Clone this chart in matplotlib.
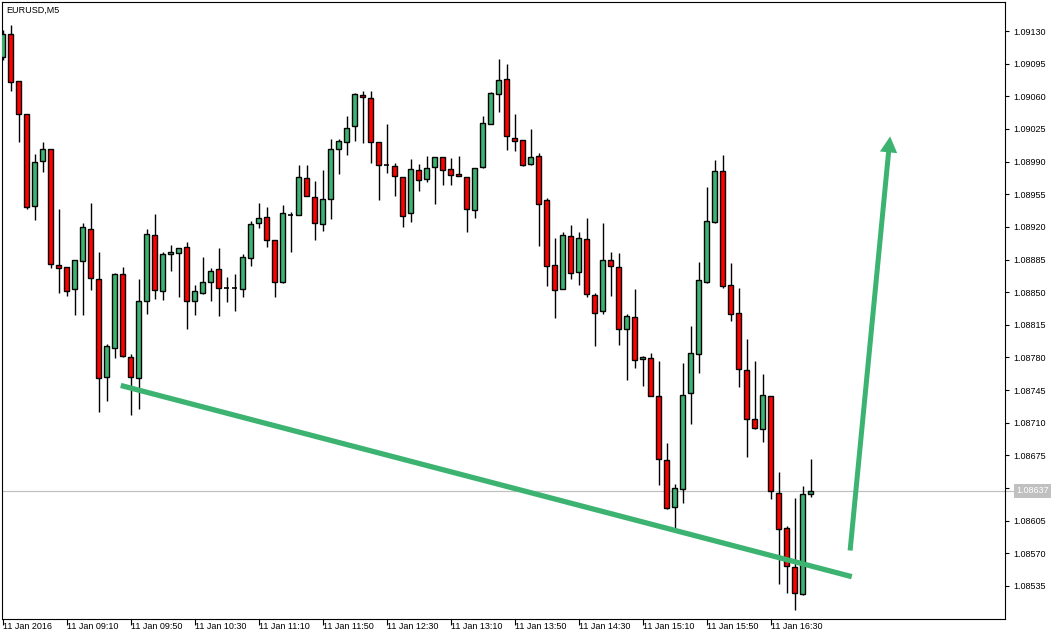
import matplotlib.pyplot as plt
import matplotlib.transforms as mtransforms

symbol_title = "EURUSD,M5"

# OHLC of the 5 minute bars, 08:30 .. 16:55
opens = [
    1.09102, 1.09127, 1.09076, 1.09041, 1.08942, 1.08991, 1.09003, 1.08879, 1.08877, 1.08853,
    1.08883, 1.08918, 1.08864, 1.08759, 1.08790, 1.08870, 1.08781, 1.08758, 1.08840, 1.08911,
    1.08851, 1.08891, 1.08892, 1.08898, 1.08841, 1.08849, 1.08861, 1.08875, 1.08855, 1.08854,
    1.08853, 1.08887, 1.08924, 1.08931, 1.08906, 1.08861, 1.08933, 1.08933, 1.08972, 1.08952,
    1.08923, 1.08950, 1.09003, 1.09011, 1.09028, 1.09061, 1.09058, 1.09011, 1.08986, 1.08985,
    1.08974, 1.08935, 1.08981, 1.08971, 1.08984, 1.08995, 1.08982, 1.08977, 1.08974, 1.08938,
    1.08984, 1.09030, 1.09063, 1.09079, 1.09015, 1.09013, 1.08987, 1.08996, 1.08949, 1.08879,
    1.08853, 1.08910, 1.08872, 1.08907, 1.08847, 1.08830, 1.08884, 1.08877, 1.08811, 1.08823,
    1.08778, 1.08779, 1.08739, 1.08670, 1.08620, 1.08639, 1.08742, 1.08784, 1.08861, 1.08925,
    1.08980, 1.08858, 1.08828, 1.08767, 1.08714, 1.08703, 1.08739, 1.08635, 1.08597, 1.08555,
    1.08526, 1.08634,
]
highs = [
    1.09131, 1.09136, 1.09076, 1.09041, 1.08998, 1.09011, 1.09004, 1.08939, 1.08877, 1.08884,
    1.08924, 1.08946, 1.08893, 1.08794, 1.08871, 1.08877, 1.08784, 1.08864, 1.08918, 1.08934,
    1.08893, 1.08901, 1.08897, 1.08904, 1.08858, 1.08888, 1.08876, 1.08897, 1.08866, 1.08870,
    1.08891, 1.08926, 1.08946, 1.08941, 1.08906, 1.08943, 1.08936, 1.08986, 1.08986, 1.08969,
    1.08981, 1.09014, 1.09014, 1.09039, 1.09064, 1.09066, 1.09066, 1.09011, 1.09030, 1.08988,
    1.08974, 1.08993, 1.08987, 1.08996, 1.08995, 1.08995, 1.08994, 1.08996, 1.08974, 1.08983,
    1.09039, 1.09065, 1.09100, 1.09095, 1.09041, 1.09013, 1.09025, 1.08999, 1.08951, 1.08908,
    1.08914, 1.08922, 1.08914, 1.08930, 1.08849, 1.08924, 1.08893, 1.08892, 1.08827, 1.08853,
    1.08782, 1.08785, 1.08776, 1.08688, 1.08644, 1.08774, 1.08814, 1.08882, 1.08963, 1.08992,
    1.08997, 1.08881, 1.08854, 1.08800, 1.08776, 1.08762, 1.08739, 1.08657, 1.08599, 1.08629,
    1.08642, 1.08671,
]
lows = [
    1.09099, 1.09066, 1.09011, 1.08939, 1.08927, 1.08979, 1.08876, 1.08849, 1.08846, 1.08826,
    1.08826, 1.08852, 1.08722, 1.08733, 1.08779, 1.08780, 1.08718, 1.08725, 1.08827, 1.08843,
    1.08842, 1.08873, 1.08845, 1.08811, 1.08826, 1.08848, 1.08841, 1.08824, 1.08839, 1.08830,
    1.08845, 1.08878, 1.08919, 1.08898, 1.08845, 1.08860, 1.08893, 1.08933, 1.08953, 1.08906,
    1.08916, 1.08928, 1.08977, 1.08997, 1.09012, 1.09010, 1.08989, 1.08949, 1.08978, 1.08953,
    1.08920, 1.08925, 1.08958, 1.08968, 1.08945, 1.08965, 1.08965, 1.08975, 1.08914, 1.08929,
    1.08983, 1.09030, 1.09043, 1.09002, 1.09001, 1.08985, 1.08986, 1.08900, 1.08857, 1.08822,
    1.08853, 1.08864, 1.08858, 1.08845, 1.08792, 1.08827, 1.08846, 1.08793, 1.08756, 1.08769,
    1.08749, 1.08739, 1.08643, 1.08617, 1.08596, 1.08624, 1.08709, 1.08763, 1.08860, 1.08924,
    1.08854, 1.08819, 1.08748, 1.08673, 1.08703, 1.08689, 1.08628, 1.08537, 1.08528, 1.08509,
    1.08525, 1.08630,
]
closes = [
    1.09127, 1.09075, 1.09041, 1.08941, 1.08990, 1.09004, 1.08880, 1.08876, 1.08851, 1.08884,
    1.08920, 1.08865, 1.08758, 1.08792, 1.08869, 1.08782, 1.08759, 1.08841, 1.08912, 1.08852,
    1.08891, 1.08893, 1.08897, 1.08840, 1.08851, 1.08861, 1.08873, 1.08855, 1.08855, 1.08854,
    1.08888, 1.08923, 1.08930, 1.08906, 1.08861, 1.08935, 1.08933, 1.08973, 1.08953, 1.08924,
    1.08950, 1.09004, 1.09012, 1.09026, 1.09062, 1.09059, 1.09011, 1.08986, 1.08986, 1.08975,
    1.08932, 1.08982, 1.08970, 1.08983, 1.08995, 1.08981, 1.08976, 1.08975, 1.08939, 1.08983,
    1.09031, 1.09064, 1.09078, 1.09017, 1.09012, 1.08986, 1.08995, 1.08945, 1.08878, 1.08852,
    1.08911, 1.08871, 1.08908, 1.08848, 1.08828, 1.08885, 1.08878, 1.08810, 1.08824, 1.08777,
    1.08780, 1.08739, 1.08671, 1.08619, 1.08640, 1.08740, 1.08785, 1.08863, 1.08926, 1.08980,
    1.08857, 1.08827, 1.08768, 1.08714, 1.08704, 1.08740, 1.08637, 1.08596, 1.08556, 1.08528,
    1.08634, 1.08637,
]

bid_price = 1.08637

time_tick_bars = [0, 8, 16, 24, 32, 40, 48, 56, 64, 72, 80, 88, 96]
time_tick_labels = [
    "11 Jan 2016", "11 Jan 09:10", "11 Jan 09:50", "11 Jan 10:30", "11 Jan 11:10",
    "11 Jan 11:50", "11 Jan 12:30", "11 Jan 13:10", "11 Jan 13:50", "11 Jan 14:30",
    "11 Jan 15:10", "11 Jan 15:50", "11 Jan 16:30",
]
price_ticks = [
    1.08535, 1.08570, 1.08605, 1.08640, 1.08675, 1.08710, 1.08745, 1.08780, 1.08815,
    1.08850, 1.08885, 1.08920, 1.08955, 1.08990, 1.09025, 1.09060, 1.09095, 1.09130,
]
hidden_tick = 1.08640  # label sits under the bid price tag

# hand drawn trend line and arrow (bar index, price)
trend_x = [14.78, 106.15]
trend_y = [1.08750, 1.08545]
arrow_x = [105.94, 110.94]
arrow_y = [1.08573, 1.09017]

up_color = "#3CB371"
down_color = "#FF0000"
draw_color = "#3CB371"
font = "Liberation Sans"

fig = plt.figure(figsize=(10.61, 6.39), dpi=100)
ax = fig.add_axes([2 / 1061, 20 / 639, 1003 / 1061, 617 / 639])

body_w = 0.55
for i in range(len(opens)):
    o, h, l, c = opens[i], highs[i], lows[i], closes[i]
    ax.vlines(i, l, h, color="black", linewidth=1.0, zorder=2)
    lo, hi = min(o, c), max(o, c)
    if hi - lo < 0.000012:
        ax.hlines((o + c) / 2, i - body_w / 2, i + body_w / 2, color="black",
                  linewidth=1.2, zorder=3)
    else:
        ax.bar(i, hi - lo, bottom=lo, width=body_w,
               color=up_color if c > o else down_color,
               edgecolor="black", linewidth=1.0, zorder=3)

# bid line and price tag
ax.axhline(bid_price, color="#C0C0C0", linewidth=0.9, zorder=1)
blend = mtransforms.blended_transform_factory(ax.transAxes, ax.transData)
ax.plot([1.0, 1.009], [bid_price, bid_price], color="#C0C0C0", linewidth=0.9,
        transform=blend, clip_on=False)

ax.plot(trend_x, trend_y, color=draw_color, linewidth=3.8,
        solid_capstyle="butt", zorder=4)
ax.annotate("", xy=(arrow_x[1], arrow_y[1]), xytext=(arrow_x[0], arrow_y[0]),
            arrowprops=dict(width=3.6, headwidth=12.5, headlength=11.5,
                            facecolor=draw_color, edgecolor="none", shrink=0),
            zorder=4)

ax.set_xlim(-0.0625, 125.3)
ax.set_ylim(1.084996, 1.091611)

ax.yaxis.tick_right()
ax.set_yticks(price_ticks,
              ["" if abs(p - hidden_tick) < 1e-7 else f"{p:.5f}" for p in price_ticks])
ax.tick_params(axis="y", length=3, width=0.8, pad=3, labelsize=6.5, direction="out")
ax.set_xticks(time_tick_bars, time_tick_labels)
ax.tick_params(axis="x", length=4.5, width=0.8, pad=-2.5, labelsize=6.5, direction="out")
for lbl in ax.get_xticklabels():
    lbl.set_horizontalalignment("left")
    lbl.set_fontfamily(font)
for lbl in ax.get_yticklabels():
    lbl.set_fontfamily(font)

ax.text(1.0115, bid_price, f"{bid_price:.5f}", transform=blend, ha="left", va="center",
        fontsize=6.5, family=font, color="white", zorder=10, clip_on=False,
        bbox=dict(facecolor="#C0C0C0", edgecolor="none", pad=1.6))

for s in ax.spines.values():
    s.set_color("black")
    s.set_linewidth(0.8)

fig.text(6 / 1061, 1 - 10 / 639, symbol_title, ha="left", va="center",
         fontsize=6.5, family=font, color="black")

fig.savefig("out.png", dpi=100)
